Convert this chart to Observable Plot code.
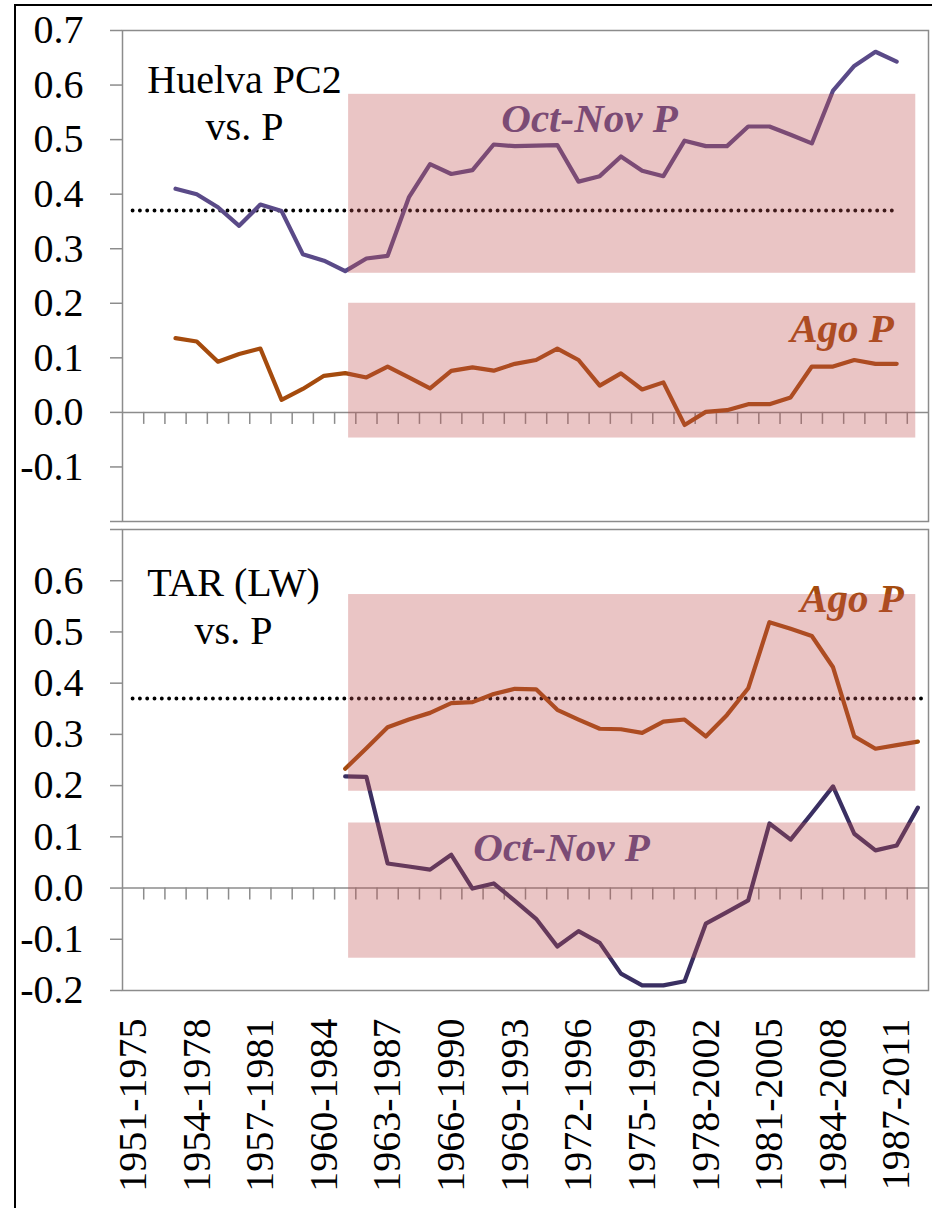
<!DOCTYPE html>
<html><head><meta charset="utf-8">
<script src="https://cdn.jsdelivr.net/npm/d3@7"></script>
<script src="https://cdn.jsdelivr.net/npm/@observablehq/plot@0.6"></script>
<style>
body{margin:0;background:#fff;}
#wrap{position:relative;width:932px;height:1208px;overflow:hidden;background:#fff;font-family:'Liberation Serif',serif;}
#frame{position:absolute;left:14px;top:4px;width:940px;height:1220px;border-left:2px solid #000;border-top:2px solid #000;}
#top,#bot{position:absolute;left:0;}
#top{top:0px}
#bot{top:521px}
</style></head>
<body><div id="wrap"><div id="frame"></div><div id="top"></div><div id="bot"></div></div>
<script>
// 25-year moving windows (categories)
const windows = ["1951-1975","1952-1976","1953-1977","1954-1978","1955-1979","1956-1980","1957-1981","1958-1982","1959-1983","1960-1984",
  "1961-1985","1962-1986","1963-1987","1964-1988","1965-1989","1966-1990","1967-1991","1968-1992","1969-1993","1970-1994",
  "1971-1995","1972-1996","1973-1997","1974-1998","1975-1999","1976-2000","1977-2001","1978-2002","1979-2003","1980-2004",
  "1981-2005","1982-2006","1983-2007","1984-2008","1985-2009","1986-2010","1987-2011","1988-2012"];
const labeledWindows = ["1951-1975","1954-1978","1957-1981","1960-1984","1963-1987","1966-1990","1969-1993","1972-1996","1975-1999","1978-2002","1981-2005","1984-2008","1987-2011"];

// Top panel: Huelva PC2 vs. P
const huelvaOctNov = [null,null,0.41,0.40,0.376,0.342,0.381,0.369,0.29,0.278,0.259,0.282,0.287,0.394,0.455,0.437,0.444,0.491,0.488,0.489,0.49,0.423,0.433,0.469,0.443,0.433,0.498,0.488,0.488,0.524,0.524,0.509,0.493,0.59,0.635,0.661,0.643,null];
const huelvaAgo = [null,null,0.136,0.130,0.093,0.107,0.117,0.023,0.043,0.067,0.072,0.064,0.084,0.064,0.044,0.076,0.0825,0.0765,0.089,0.096,0.117,0.096,0.049,0.0715,0.042,0.055,-0.023,0.001,0.004,0.015,0.015,0.0275,0.084,0.084,0.096,0.089,0.089,null];

// Bottom panel: TAR (LW) vs. P
const tarAgo = [null,null,null,null,null,null,null,null,null,null,0.233,0.273,0.314,0.329,0.342,0.361,0.363,0.379,0.389,0.388,0.348,0.329,0.311,0.31,0.303,0.325,0.329,0.296,0.338,0.39,0.519,0.506,0.492,0.431,0.296,0.272,0.279,0.286];
const tarOctNov = [null,null,null,null,null,null,null,null,null,null,0.218,0.217,0.048,0.042,0.036,0.065,-0.001,0.009,-0.025,-0.06,-0.114,-0.084,-0.107,-0.167,-0.19,-0.19,-0.182,-0.0695,-0.047,-0.024,0.126,0.0945,0.146,0.1985,0.106,0.0736,0.083,0.157];

// significance threshold
const threshold = 0.37;
// shaded ranges (window index span and correlation span)
const huelvaBands = [{x1: 10.16, x2: 36.9, y1: 0.255, y2: 0.583}, {x1: 10.16, x2: 36.9, y1: -0.047, y2: 0.2}];
const tarBands = [{x1: 10.16, x2: 36.9, y1: 0.189, y2: 0.573}, {x1: 10.16, x2: 36.9, y1: -0.137, y2: 0.127}];

const yTickValues = [-0.2,-0.1,0,0.1,0.2,0.3,0.4,0.5,0.6,0.7];
const huelvaYLabels = [-0.1,0,0.1,0.2,0.3,0.4,0.5,0.6,0.7];
const tarYLabels = [-0.2,-0.1,0,0.1,0.2,0.3,0.4,0.5,0.6];

const FONT = "Liberation Serif";
const PURPLE = "#5a4a88", PURPLE_DARK = "#3a2f62", ORANGE = "#a54b0d", GRID = "#8c8c8c";
const idx = windows.map((_, i) => i);
const boundaries = idx.slice(1).map(i => i - 0.5);
const labeledIdx = labeledWindows.map(w => windows.indexOf(w));

function panel({height, marginTop, marginBottom, octNov, ago, octColor, bands, thrEnd, yLabels, title, titleDx, titleDy, titleLH, texts, xAxis}) {
  const marks = [
    Plot.frame({stroke: GRID, strokeWidth: 1.5}),
    Plot.ruleY([0], {stroke: GRID, strokeWidth: 1.5}),
    Plot.ruleX(boundaries, {x: d => d, y1: 0, y2: 0, insetBottom: -12, stroke: GRID, strokeWidth: 1.5}),
    Plot.ruleY([threshold], {x1: 0, x2: thrEnd, stroke: "#000", strokeWidth: 3.9, strokeDasharray: "0,7.3", strokeLinecap: "round"}),
    Plot.line(idx, {x: i => i, y: i => ago[i], stroke: ORANGE, strokeWidth: 4.2, strokeLinejoin: "round"}),
    Plot.line(idx, {x: i => i, y: i => octNov[i], stroke: octColor, strokeWidth: 4.2, strokeLinejoin: "round"}),
    Plot.text([title], {frameAnchor: "top-left", dx: titleDx, dy: titleDy, textAnchor: "middle", lineAnchor: "top", lineHeight: titleLH, fontSize: 40, fontFamily: FONT, fill: "#000"}),
    ...texts.map(t => Plot.text([t.text], {frameAnchor: "top-left", dx: t.dx, dy: t.dy, textAnchor: "middle", lineAnchor: "top", fontSize: 41, fontFamily: FONT, fontWeight: "bold", fontStyle: "italic", fill: t.color})),
    Plot.rect(bands, {x1: "x1", x2: "x2", y1: "y1", y2: "y2", fill: "#be5050", fillOpacity: 0.33}),
    Plot.axisY(yTickValues, {tickSize: 12, tickPadding: 27, stroke: GRID, strokeWidth: 1.5, fontSize: 40, fontFamily: FONT, fill: "#000",
      tickFormat: d => yLabels.some(v => Math.abs(v - d) < 1e-9) ? d.toFixed(1) : ""})
  ];
  if (xAxis) marks.push(Plot.axisX(labeledIdx, {tickFormat: i => windows[i], tickRotate: -90, tickSize: 0, tickPadding: 28, fontSize: 40, fontFamily: FONT, fill: "#000", label: null}));
  const svg = Plot.plot({
    width: 932, height, marginLeft: 122, marginRight: 4, marginTop, marginBottom,
    x: {type: "linear", domain: [-0.5, windows.length - 0.5], axis: xAxis ? undefined : null},
    y: {domain: [-0.2, 0.7]},
    marks
  });
  svg.setAttribute("font-family", FONT);
  svg.style.fontFamily = FONT;
  svg.style.background = "transparent";
  svg.style.overflow = "visible";
  return svg;
}

document.getElementById("top").append(panel({
  height: 530, marginTop: 30, marginBottom: 9,
  octNov: huelvaOctNov, ago: huelvaAgo, octColor: PURPLE, bands: huelvaBands, thrEnd: 36,
  yLabels: huelvaYLabels, title: "Huelva PC2\nvs. P", titleDx: 122, titleDy: 29.6, titleLH: 1.175,
  texts: [{text: "Oct-Nov P", dx: 467, dy: 72.6, color: PURPLE}, {text: "Ago P", dx: 719.5, dy: 282.6, color: ORANGE}],
  xAxis: false
}));
document.getElementById("bot").append(panel({
  height: 687, marginTop: 8, marginBottom: 218,
  octNov: tarOctNov, ago: tarAgo, octColor: PURPLE_DARK, bands: tarBands, thrEnd: 37.4,
  yLabels: tarYLabels, title: "TAR (LW)\nvs. P", titleDx: 111, titleDy: 32.6, titleLH: 1.2,
  texts: [{text: "Ago P", dx: 729.5, dy: 53.6, color: ORANGE}, {text: "Oct-Nov P", dx: 439, dy: 302.6, color: PURPLE}],
  xAxis: true
}));
</script>
</body></html>
